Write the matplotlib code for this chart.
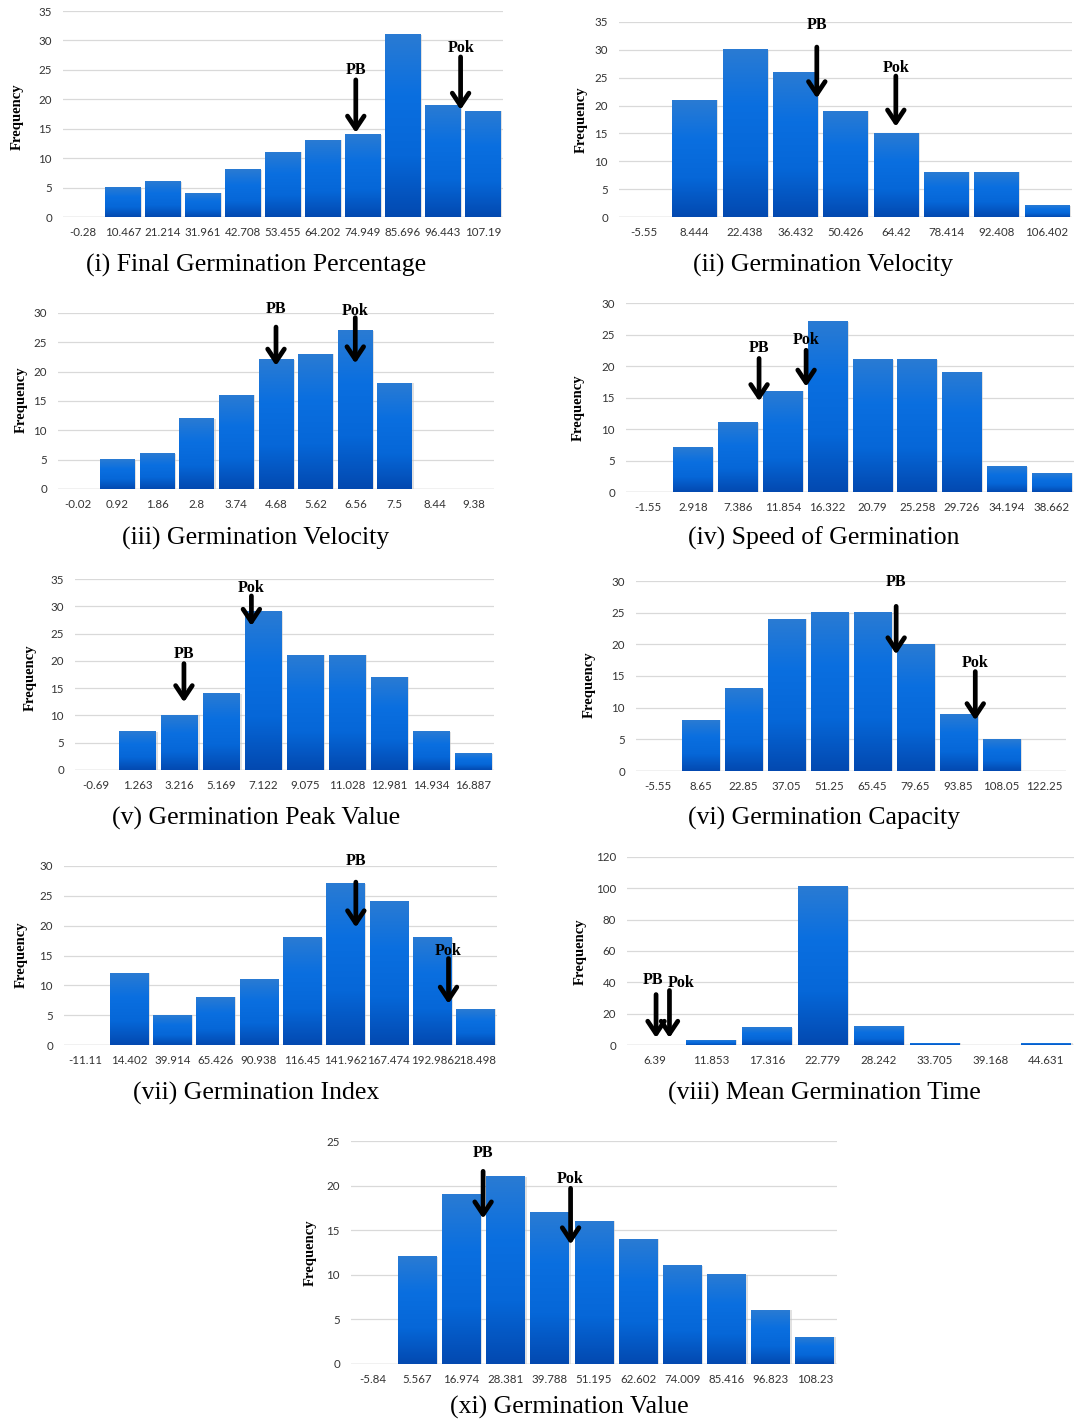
import numpy as np
import matplotlib
matplotlib.use("Agg")
import matplotlib.pyplot as plt
from matplotlib.colors import LinearSegmentedColormap

# ---------------- data ----------------
fgp_bins = ["-0.28", "10.467", "21.214", "31.961", "42.708", "53.455", "64.202", "74.949", "85.696", "96.443", "107.19"]
fgp_freq = [0, 5, 6, 4, 8, 11, 13, 14, 31, 19, 18]

gv2_bins = ["-5.55", "8.444", "22.438", "36.432", "50.426", "64.42", "78.414", "92.408", "106.402"]
gv2_freq = [0, 21, 30, 26, 19, 15, 8, 8, 2]

gv3_bins = ["-0.02", "0.92", "1.86", "2.8", "3.74", "4.68", "5.62", "6.56", "7.5", "8.44", "9.38"]
gv3_freq = [0, 5, 6, 12, 16, 22, 23, 27, 18, 0, 0]

sg_bins = ["-1.55", "2.918", "7.386", "11.854", "16.322", "20.79", "25.258", "29.726", "34.194", "38.662"]
sg_freq = [0, 7, 11, 16, 27, 21, 21, 19, 4, 3]

pv_bins = ["-0.69", "1.263", "3.216", "5.169", "7.122", "9.075", "11.028", "12.981", "14.934", "16.887"]
pv_freq = [0, 7, 10, 14, 29, 21, 21, 17, 7, 3]

gc_bins = ["-5.55", "8.65", "22.85", "37.05", "51.25", "65.45", "79.65", "93.85", "108.05", "122.25"]
gc_freq = [0, 8, 13, 24, 25, 25, 20, 9, 5, 0]

gi_bins = ["-11.11", "14.402", "39.914", "65.426", "90.938", "116.45", "141.962", "167.474", "192.986", "218.498"]
gi_freq = [0, 12, 5, 8, 11, 18, 27, 24, 18, 6]

mgt_bins = ["6.39", "11.853", "17.316", "22.779", "28.242", "33.705", "39.168", "44.631"]
mgt_freq = [0, 3, 11, 101, 12, 1, 0, 1]

gval_bins = ["-5.84", "5.567", "16.974", "28.381", "39.788", "51.195", "62.602", "74.009", "85.416", "96.823", "108.23"]
gval_freq = [0, 12, 19, 21, 17, 16, 14, 11, 10, 6, 3]

titles = ["(i) Final Germination Percentage", "(ii) Germination Velocity",
          "(iii) Germination Velocity", "(iv) Speed of Germination",
          "(v) Germination Peak Value", "(vi) Germination Capacity",
          "(vii) Germination Index", "(viii) Mean Germination Time",
          "(xi) Germination Value"]

# markers: (label, x index, label y, arrow tail y, arrow tip y)
marks_i = [("PB", 6.82, 24.9, 23.3, 14.3), ("Pok", 9.44, 28.7, 27.2, 18.2)]
marks_ii = [("PB", 3.43, 34.4, 30.5, 21.3), ("Pok", 5.0, 26.8, 25.3, 16.2)]
marks_iii = [("PB", 5.0, 30.6, 27.6, 21.0), ("Pok", 7.0, 30.4, 29.2, 21.4)]
marks_iv = [("PB", 2.47, 22.8, 21.2, 14.4), ("Pok", 3.52, 24.2, 22.5, 16.7)]
marks_v = [("PB", 2.1, 21.2, 19.5, 12.4), ("Pok", 3.71, 33.4, 31.9, 26.4)]
marks_vi = [("PB", 5.55, 29.8, 26.0, 18.4), ("Pok", 7.39, 17.1, 15.7, 8.0)]
marks_vii = [("PB", 6.24, 30.8, 27.3, 19.7), ("Pok", 8.38, 15.7, 14.5, 6.9)]
marks_viii = [("PB", 0.02, 41.7, 32.2, 4.5), ("Pok", 0.26, 39.6, 34.8, 4.5)]
marks_xi = [("PB", 2.49, 23.6, 21.6, 16.3), ("Pok", 4.47, 20.7, 19.7, 13.4)]
# label x offsets for the crowded MGT panel
label_dx_viii = [-0.05, 0.2]

# ---------------- layout ----------------
W, H = 1077, 1423
fig = plt.figure(figsize=(W / 100, H / 100), dpi=100)
fig.patch.set_facecolor("white")

cmap = LinearSegmentedColormap.from_list("bar", ["#0349b0", "#0667d8", "#0a6fe0", "#2a7bd3"])
grad = np.linspace(0, 1, 256).reshape(-1, 1)

TICK_FONT = ["Lato", "DejaVu Sans"]
SERIF = ["Liberation Serif", "DejaVu Serif"]


def panel(box, cats, freq, ymax, ystep, title, title_xy, freq_xy, marks, label_dx=None):
    l, t, r, b = box
    ax = fig.add_axes([l / W, 1 - b / H, (r - l) / W, (b - t) / H])
    x = np.arange(len(cats))
    # soft shadow on the right side of each bar
    ax.bar(x + 0.035, freq, width=0.88, color="#c4c4c4", alpha=0.5, zorder=2, linewidth=0)
    bars = ax.bar(x, freq, width=0.88, color="#0a6be0", zorder=3, linewidth=0)
    for p in bars:
        h = p.get_height()
        if h <= 0:
            continue
        x0 = p.get_x()
        ax.imshow(grad, extent=(x0, x0 + p.get_width(), 0, h), origin="lower",
                  cmap=cmap, aspect="auto", zorder=3.5, interpolation="bicubic")
    ax.set_xlim(-0.5, len(cats) - 0.5)
    ax.set_ylim(0, ymax)
    ax.set_yticks(np.arange(0, ymax + 1, ystep))
    ax.set_xticks(x)
    ax.set_xticklabels(cats)
    ax.grid(axis="y", color="#d9d9d9", linewidth=0.9, zorder=0)
    ax.set_axisbelow(True)
    for s in ax.spines.values():
        s.set_visible(False)
    ax.tick_params(axis="both", length=0, labelsize=8.3, labelcolor="#333333")
    ax.tick_params(axis="x", pad=7)
    ax.tick_params(axis="y", pad=8)
    for lab in ax.get_xticklabels() + ax.get_yticklabels():
        lab.set_family(TICK_FONT)
    ax.axhline(0, color="#d0d0d0", linewidth=1.0, zorder=1)
    # markers
    for i, (name, xi, ly, ty, tip) in enumerate(marks):
        dx = label_dx[i] if label_dx else 0
        ax.annotate("", xy=(xi, tip), xytext=(xi, ty),
                    arrowprops=dict(arrowstyle="->,head_length=0.9,head_width=0.6",
                                    lw=3.4, color="black", mutation_scale=10,
                                    shrinkA=0, shrinkB=0),
                    zorder=6, annotation_clip=False)
        ax.text(xi + dx, ly, name, ha="center", va="center", fontsize=11.5,
                fontweight="bold", family=SERIF, color="black", zorder=7, clip_on=False)
    fig.text(title_xy[0] / W, 1 - title_xy[1] / H, title, ha="center", va="center",
             fontsize=18.5, family=SERIF, color="black")
    fig.text(freq_xy[0] / W, 1 - freq_xy[1] / H, "Frequency", ha="center", va="center",
             rotation=90, fontsize=10.5, fontweight="bold", family=SERIF, color="black")
    return ax


panel((63, 11, 503, 217), fgp_bins, fgp_freq, 35, 5, titles[0], (256, 265), (17, 117), marks_i)
panel((619, 22, 1072, 217), gv2_bins, gv2_freq, 35, 5, titles[1], (823, 265), (581, 120), marks_ii)
panel((58, 313, 494, 489), gv3_bins, gv3_freq, 30, 5, titles[2], (256, 538), (21, 400), marks_iii)
panel((626, 303, 1074, 492), sg_bins, sg_freq, 30, 5, titles[3], (824, 538), (578, 408), marks_iv)
panel((75, 579, 494, 770), pv_bins, pv_freq, 35, 5, titles[4], (256, 818), (30, 678), marks_v)
panel((636, 581, 1066, 771), gc_bins, gc_freq, 30, 5, titles[5], (824, 818), (589, 685), marks_vi)
panel((64, 866, 497, 1045), gi_bins, gi_freq, 30, 5, titles[6], (256, 1093), (21, 955), marks_vii)
panel((627, 857, 1074, 1045), mgt_bins, mgt_freq, 120, 20, titles[7], (824, 1093), (580, 952), marks_viii, label_dx_viii)
panel((351, 1141, 837, 1364), gval_bins, gval_freq, 25, 5, titles[8], (569, 1407), (310, 1253), marks_xi)

fig.savefig("out.png", dpi=100, facecolor="white")
